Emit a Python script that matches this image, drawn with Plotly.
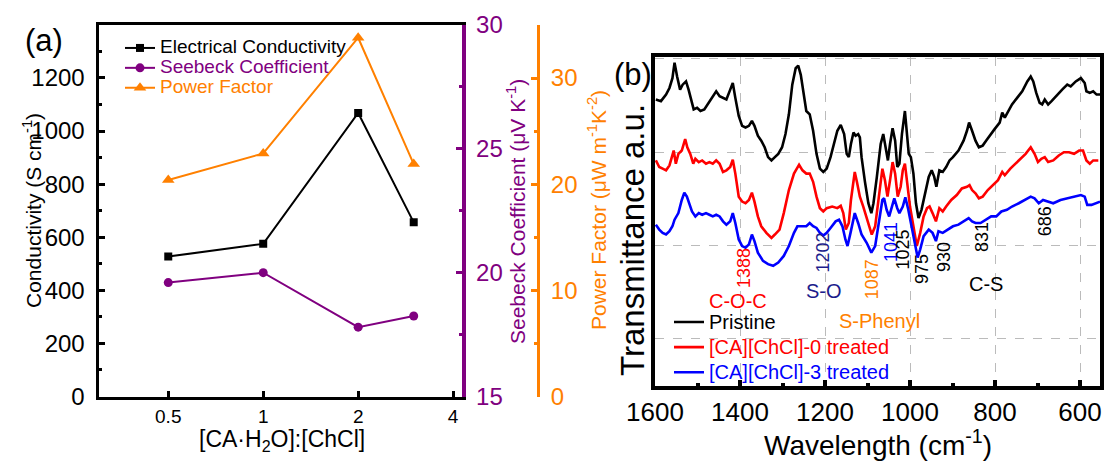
import plotly.graph_objects as go

# ---------------- Panel (a) data ----------------
ratio = [0.5, 1, 2, 3]
conductivity = [527, 575, 1068, 656]          # S cm^-1
seebeck = [19.6, 20.0, 17.8, 18.25]           # uV K^-1
power_factor = [20.4, 22.9, 33.8, 21.9]       # uW m^-1 K^-2
ratio_ticks = [0.5, 1, 2, 4]
ratio_ticktext = ["0.5", "1", "2", "4"]

# ---------------- Panel (b) data ----------------
wn_pristine = [1598, 1586, 1574, 1566, 1559, 1554, 1548, 1541, 1535, 1527, 1521, 1513, 1509, 1501, 1493,
               1484, 1476, 1468, 1456, 1448, 1440, 1432, 1423, 1417, 1411, 1403, 1395, 1387, 1379, 1372,
               1366, 1358, 1350, 1342, 1334, 1326, 1318, 1310, 1301, 1293, 1285, 1277, 1269, 1263, 1257,
               1248, 1244, 1236, 1228, 1220, 1212, 1204, 1196, 1187, 1179, 1171, 1163, 1155, 1149, 1144,
               1139, 1133, 1128, 1122, 1118, 1114, 1106, 1098, 1091, 1086, 1078, 1069, 1063, 1057, 1052,
               1047, 1041, 1035, 1030, 1025, 1019, 1012, 1008, 1003, 998, 992, 986, 980, 973, 965,
               956, 949, 943, 938, 931, 923, 915, 907, 899, 886, 874, 866, 861, 854, 846,
               838, 829, 821, 813, 801, 789, 783, 777, 768, 760, 748, 736, 724, 716, 710,
               703, 695, 689, 683, 675, 667, 654, 642, 630, 622, 610, 598, 589, 585, 577,
               569, 561, 553]
t_pristine = [87.0, 86.5, 88.5, 90.5, 93.5, 98.2, 94.0, 90.0, 91.5, 92.5, 90.0, 86.0, 84.0, 84.5, 83.5,
              84.0, 85.5, 87.0, 89.5, 88.0, 87.5, 87.0, 90.0, 92.0, 87.5, 82.0, 79.0, 78.5, 79.0, 80.5,
              79.0, 76.0, 74.5, 72.5, 69.5, 68.5, 69.5, 70.5, 72.5, 76.5, 82.5, 91.5, 96.5, 97.3, 94.5,
              86.5, 83.5, 82.5, 77.5, 70.5, 66.0, 65.0, 66.0, 69.5, 73.5, 77.5, 79.3, 76.5, 70.5, 69.5,
              73.5, 77.0, 76.0, 76.5, 75.5, 69.5, 62.0, 55.5, 52.5, 55.5, 63.5, 73.5, 76.5, 72.5, 68.5,
              73.5, 78.3, 74.5, 66.5, 67.5, 76.5, 83.5, 78.5, 70.5, 69.5, 64.5, 55.5, 51.0, 53.5, 58.5,
              63.5, 65.5, 63.5, 60.5, 65.5, 65.0, 66.5, 68.5, 69.5, 71.5, 74.5, 77.5, 80.0, 77.5, 74.5,
              72.5, 73.0, 74.5, 76.0, 78.0, 80.0, 83.0, 81.5, 83.5, 85.5, 87.5, 89.5, 92.5, 94.0, 92.5,
              89.0, 86.0, 85.5, 87.0, 85.5, 86.5, 88.5, 90.0, 91.5, 91.0, 92.5, 93.5, 92.0, 89.5, 89.0,
              89.5, 88.5, 88.5]

wn_ca0 = [1598, 1590, 1582, 1574, 1566, 1559, 1556, 1551, 1545, 1537, 1533, 1529, 1524, 1517, 1510,
          1505, 1497, 1489, 1480, 1472, 1464, 1456, 1448, 1440, 1432, 1423, 1417, 1411, 1403, 1395,
          1387, 1379, 1372, 1366, 1358, 1350, 1338, 1326, 1318, 1307, 1297, 1285, 1273, 1261, 1253,
          1244, 1236, 1228, 1220, 1212, 1204, 1196, 1183, 1171, 1163, 1157, 1151, 1144, 1139, 1130,
          1125, 1118, 1110, 1102, 1094, 1090, 1082, 1074, 1065, 1059, 1053, 1047, 1041, 1035, 1029,
          1022, 1017, 1012, 1007, 1000, 992, 984, 976, 968, 960, 954, 947, 939, 931, 923,
          915, 903, 890, 878, 866, 860, 854, 846, 838, 829, 817, 805, 793, 783, 777,
          764, 752, 740, 728, 716, 707, 699, 691, 683, 675, 663, 650, 638, 626, 614,
          602, 593, 585, 577, 569, 557]
t_ca0 = [68.5, 66.5, 66.0, 65.5, 67.0, 70.5, 71.5, 67.5, 70.5, 71.5, 73.5, 75.0, 72.5, 70.5, 67.5,
         69.0, 68.0, 68.5, 67.5, 68.0, 67.5, 68.5, 67.5, 65.0, 65.5, 66.5, 68.7, 64.5, 57.5, 56.0,
         55.5, 56.5, 58.7, 56.0, 51.5, 48.5, 46.5, 45.0, 46.0, 47.5, 52.5, 59.5, 64.5, 67.2, 65.5,
         64.5, 64.5, 62.0, 57.5, 54.0, 53.0, 54.0, 54.5, 54.0, 54.7, 52.5, 47.5, 49.5, 56.5, 65.0,
         62.0, 57.5, 54.5, 51.0, 47.0, 46.0, 48.5, 56.5, 66.0, 62.5, 57.5, 62.5, 68.0, 64.5, 57.5,
         60.5, 65.5, 67.5, 62.5, 54.5, 48.5, 42.5, 46.5, 51.5, 54.0, 54.5, 52.5, 50.0, 54.0, 53.0,
         54.5, 56.5, 58.0, 60.0, 60.5, 61.0, 59.5, 58.5, 57.0, 57.5, 59.5, 61.0, 62.5, 65.0, 64.0,
         66.0, 67.5, 69.0, 70.5, 72.5, 70.5, 68.0, 69.0, 69.5, 68.0, 68.5, 70.0, 71.0, 71.0, 70.5,
         71.5, 71.5, 68.5, 67.5, 68.5, 68.5]

wn_ca3 = [1598, 1590, 1582, 1574, 1566, 1559, 1554, 1545, 1537, 1531, 1525, 1518, 1513, 1505, 1497,
          1489, 1480, 1472, 1464, 1456, 1448, 1440, 1432, 1423, 1417, 1411, 1403, 1395, 1387, 1379,
          1372, 1366, 1358, 1346, 1334, 1322, 1310, 1297, 1285, 1273, 1265, 1253, 1244, 1236, 1228,
          1220, 1212, 1204, 1196, 1187, 1175, 1167, 1159, 1152, 1147, 1140, 1130, 1122, 1114, 1102,
          1091, 1082, 1074, 1065, 1061, 1055, 1049, 1043, 1037, 1030, 1025, 1017, 1011, 1004, 996,
          988, 982, 976, 968, 956, 947, 939, 933, 923, 911, 899, 886, 874, 862, 854,
          846, 834, 821, 809, 797, 785, 772, 760, 744, 728, 716, 707, 697, 687, 675,
          663, 646, 630, 614, 598, 589, 583, 573, 561, 553]
t_ca3 = [49.0, 47.5, 46.5, 46.0, 47.0, 48.5, 50.5, 52.5, 56.5, 58.7, 57.5, 54.5, 53.0, 51.5, 52.5,
         52.0, 52.5, 52.0, 51.5, 52.0, 51.5, 50.0, 49.0, 50.0, 52.5, 49.5, 44.5, 42.5, 42.0, 43.0,
         46.0, 44.0, 40.5, 38.0, 37.0, 36.5, 37.5, 39.5, 42.5, 46.5, 48.5, 48.5, 48.5, 49.5, 48.5,
         48.0, 46.5, 45.7, 46.5, 48.0, 50.0, 50.5, 48.5, 44.5, 42.5, 46.5, 52.5, 49.5, 46.0, 43.5,
         40.5, 42.5, 48.5, 56.5, 57.0, 53.5, 51.5, 54.5, 57.0, 54.0, 52.5, 54.5, 57.3, 53.5, 48.5,
         42.5, 39.0, 41.5, 45.5, 47.5, 46.5, 44.0, 47.0, 46.5, 47.5, 48.5, 49.0, 50.0, 51.0, 50.0,
         49.5, 49.5, 50.5, 51.5, 51.5, 53.0, 53.5, 54.5, 55.5, 56.5, 57.5, 57.0, 55.5, 56.5, 56.0,
         55.5, 56.5, 57.0, 57.5, 58.0, 57.5, 55.0, 55.0, 55.5, 56.0]

peak_labels = ["1388", "1202", "1087", "1041", "1025", "975", "930", "831", "686"]
group_labels = ["C-O-C", "S-O", "S-Phenyl", "C-S"]

# ---------------- styling ----------------
FONT = "Arial, Liberation Sans, sans-serif"
BLACK = "#000000"
PURPLE = "#800080"
ORANGE = "#FF8000"
RED = "#FF0000"
BLUE = "#0000FF"
NAVY = "#1C1C8C"
W, H = 1107, 461


def px(x):
    return x / W


def py(y):
    return 1 - y / H


fig = go.Figure()

# Panel (a) traces
fig.add_trace(go.Scatter(
    x=ratio, y=conductivity, mode="lines+markers", xaxis="x", yaxis="y",
    name='<span style="font-size:19px;color:#000000">Electrical Conductivity</span>',
    line=dict(color=BLACK, width=2), marker=dict(symbol="square", size=8, color=BLACK),
    legend="legend"))
fig.add_trace(go.Scatter(
    x=ratio, y=seebeck, mode="lines+markers", xaxis="x", yaxis="y2",
    name='<span style="font-size:19px;color:#800080">Seebeck Coefficient</span>',
    line=dict(color=PURPLE, width=2), marker=dict(symbol="circle", size=9, color=PURPLE),
    legend="legend"))
fig.add_trace(go.Scatter(
    x=ratio, y=power_factor, mode="lines+markers", xaxis="x", yaxis="y3",
    name='<span style="font-size:19px;color:#FF8000">Power Factor</span>',
    line=dict(color=ORANGE, width=2), marker=dict(symbol="triangle-up", size=11, color=ORANGE),
    legend="legend"))

# Panel (b) traces
fig.add_trace(go.Scatter(
    x=wn_pristine, y=t_pristine, mode="lines", xaxis="x2", yaxis="y4",
    name='<span style="font-size:20px;color:#000000">Pristine</span>',
    line=dict(color=BLACK, width=2.6), legend="legend2"))
fig.add_trace(go.Scatter(
    x=wn_ca0, y=t_ca0, mode="lines", xaxis="x2", yaxis="y4",
    name='<span style="font-size:20px;color:#FF0000">[CA][ChCl]-0 treated</span>',
    line=dict(color=RED, width=2.6), legend="legend2"))
fig.add_trace(go.Scatter(
    x=wn_ca3, y=t_ca3, mode="lines", xaxis="x2", yaxis="y4",
    name='<span style="font-size:20px;color:#0000FF">[CA][ChCl]-3 treated</span>',
    line=dict(color=BLUE, width=2.6), legend="legend2"))

tickfont_a = dict(family=FONT, size=24, color=BLACK)

fig.update_layout(
    template="none",
    width=W, height=H, autosize=False,
    margin=dict(l=0, r=0, t=0, b=0, pad=0),
    paper_bgcolor="white", plot_bgcolor="white",
    font=dict(family=FONT, color=BLACK),
    xaxis=dict(
        domain=[px(98.5), px(461.5)], anchor="y", type="log", automargin=False,
        range=[-0.5222, 0.6286], tickvals=ratio_ticks, ticktext=ratio_ticktext,
        ticks="inside", ticklen=6, tickwidth=3, tickcolor=BLACK,
        tickfont=dict(family=FONT, size=19, color=BLACK), ticklabelstandoff=1,
        showline=True, linecolor=BLACK, linewidth=3, mirror=True,
        showgrid=False, zeroline=False),
    yaxis=dict(
        domain=[py(396.5), py(25)], anchor="x", range=[0, 1399.5], dtick=200, automargin=False,
        ticks="inside", ticklen=6, tickwidth=3, tickcolor=BLACK,
        minor=dict(dtick=100, ticks="inside", ticklen=3, tickwidth=3, tickcolor=BLACK, showgrid=False),
        tickfont=tickfont_a, ticklabelstandoff=6,
        showline=True, linecolor=BLACK, linewidth=3,
        showgrid=False, zeroline=False),
    yaxis2=dict(
        overlaying="y", anchor="x", side="right", range=[15, 30], dtick=5, automargin=False,
        ticks="inside", ticklen=6, tickwidth=3, tickcolor=PURPLE,
        minor=dict(dtick=2.5, ticks="inside", ticklen=3, tickwidth=3, tickcolor=PURPLE, showgrid=False),
        tickfont=dict(family=FONT, size=24, color=PURPLE), ticklabelstandoff=6,
        showline=True, linecolor=PURPLE, linewidth=3.5,
        showgrid=False, zeroline=False),
    yaxis3=dict(
        overlaying="y", anchor="free", position=px(538), side="right", range=[0, 35], dtick=10,
        automargin=False,
        ticks="inside", ticklen=6, tickwidth=3, tickcolor=ORANGE,
        minor=dict(dtick=5, ticks="inside", ticklen=3, tickwidth=3, tickcolor=ORANGE, showgrid=False),
        tickfont=dict(family=FONT, size=24, color=ORANGE), ticklabelstandoff=6,
        showline=True, linecolor=ORANGE, linewidth=3,
        showgrid=False, zeroline=False),
    xaxis2=dict(
        domain=[px(655), px(1100)], anchor="y4", range=[1600, 553], dtick=200, tick0=0,
        automargin=False,
        ticks="inside", ticklen=6, tickwidth=3.5, tickcolor=BLACK,
        minor=dict(dtick=100, ticks="inside", ticklen=3, tickwidth=3.5, tickcolor=BLACK, showgrid=False),
        tickfont=dict(family=FONT, size=26, color=BLACK), ticklabelstandoff=0,
        showline=True, linecolor=BLACK, linewidth=3.5, mirror=True,
        showgrid=True, gridcolor="#BBBBBB", griddash="dash", gridwidth=1,
        zeroline=False),
    yaxis4=dict(
        domain=[py(386), py(56.7)], anchor="x2", range=[0, 100], automargin=False,
        tick0=14.3, dtick=28.35, showticklabels=False, ticks="",
        showline=True, linecolor=BLACK, linewidth=3.5, mirror=True,
        showgrid=True, gridcolor="#BBBBBB", griddash="dash", gridwidth=1,
        zeroline=False),
    legend=dict(
        x=px(120), y=py(33), xanchor="left", yanchor="top",
        font=dict(family=FONT, size=13, color=BLACK),
        bgcolor="rgba(0,0,0,0)", borderwidth=0, tracegroupgap=0),
    legend2=dict(
        x=px(669), y=py(304.5), xanchor="left", yanchor="top",
        font=dict(family=FONT, size=17, color=BLACK),
        bgcolor="rgba(0,0,0,0)", borderwidth=0, tracegroupgap=0),
    showlegend=True,
)


def label(text, x, y, size, color, angle=0, xref="paper", yref="paper"):
    return dict(text=text, x=x, y=y, xref=xref, yref=yref, textangle=angle,
                xanchor="center", yanchor="middle", showarrow=False,
                font=dict(family=FONT, size=size, color=color))


ann = [
    label("(a)", px(44), py(40), 31, BLACK),
    label("Conductivity (S cm<sup>-1</sup>)", px(32), py(211), 21, BLACK, -90),
    label("[CA·H<sub>2</sub>O]:[ChCl]", px(282), py(440), 23, BLACK),
    label("Seebeck Coefficient (μV K<sup>-1</sup>)", px(516), py(212), 21, PURPLE, -90),
    label("Power Factor (μW m<sup>-1</sup>K<sup>-2</sup>)", px(597), py(210), 21, ORANGE, -90),
    label("(b)", px(633), py(74), 31, BLACK),
    label("Transmittance a.u.", px(633), py(240), 33, BLACK, -90),
    label("Wavelength (cm<sup>-1</sup>)", px(878), py(443), 28, BLACK),
]

# Peak labels (rotated) in panel (b), placed in data coordinates
peak_pos = [(1391, 35.8), (1205, 40.5), (1089, 32.5), (1045, 43.7), (1016, 41.5),
            (972, 35.5), (920, 39.2), (831, 45.2), (682, 50.1)]
peak_col = [RED, NAVY, ORANGE, BLUE, BLACK, BLACK, BLACK, BLACK, BLACK]
for lab, (xx, yy), c in zip(peak_labels, peak_pos, peak_col):
    ann.append(label(lab, xx, yy, 18, c, -90, "x2", "y4"))

group_pos = [(1405, 25.8), (1202, 28.8), (1071, 19.6), (821, 31.0)]
group_col = [RED, NAVY, ORANGE, BLACK]
for lab, (xx, yy), c in zip(group_labels, group_pos, group_col):
    ann.append(label(lab, xx, yy, 20, c, 0, "x2", "y4"))

fig.update_layout(annotations=ann)

fig.write_html("out.html",
               config={"displayModeBar": False},
               post_script="document.body.style.margin='0';document.body.style.overflow='hidden';")
